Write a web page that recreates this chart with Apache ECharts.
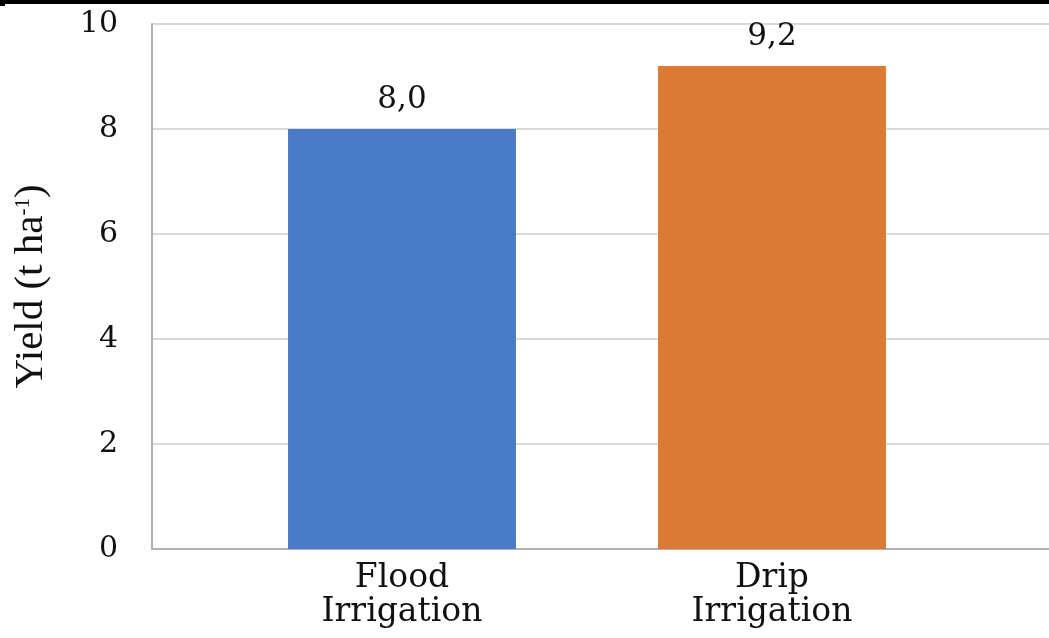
<!DOCTYPE html>
<html>
<head>
<meta charset="utf-8">
<script src="https://cdn.jsdelivr.net/npm/echarts@6/dist/echarts.min.js"></script>
<style>
  html, body { margin: 0; padding: 0; background: #fff; }
  #chart { width: 1049px; height: 638px; }
</style>
</head>
<body>
<div id="chart"></div>
<script>
// Yield by irrigation method
const categories = ['Flood\nIrrigation', 'Drip\nIrrigation'];
const yieldValues = [8.0, 9.2];
const barColors = ['#4a7bc9', '#dc7935'];
const yTicks = [0, 2, 4, 6, 8, 10];

const serif = 'DejaVu Serif';
const chart = echarts.init(document.getElementById('chart'), null, { renderer: 'canvas' });

chart.setOption({
  backgroundColor: '#ffffff',
  animation: false,
  graphic: [
    { type: 'rect', left: 0, top: 0, shape: { width: 1049, height: 4 }, style: { fill: '#000' } },
    { type: 'rect', left: 0, top: 4, shape: { width: 5, height: 2 }, style: { fill: '#000' } }
  ],
  grid: [
    // frame: y axis, gridlines and baseline across the full width
    { left: 152, right: 0, top: 24, bottom: 89 },
    // bars and category labels
    { left: 217, right: 92, top: 24, bottom: 89 }
  ],
  xAxis: [
    {
      gridIndex: 0, type: 'category', data: categories,
      axisLine: { show: true, lineStyle: { color: '#b0b0b0', width: 2 } },
      axisTick: { show: false }, axisLabel: { show: false }, splitLine: { show: false }
    },
    {
      gridIndex: 1, type: 'category', data: categories,
      axisLine: { show: false }, axisTick: { show: false },
      axisLabel: {
        margin: 12, fontFamily: serif, fontSize: 33, lineHeight: 34, color: '#111'
      }
    }
  ],
  yAxis: [
    {
      gridIndex: 0, type: 'value', min: yTicks[0], max: yTicks[yTicks.length - 1], interval: 2,
      name: '{a|Yield (t ha}{s|-1}{a|)}',
      nameLocation: 'middle', nameRotate: 90, nameGap: 100,
      nameTextStyle: {
        rich: {
          a: { fontFamily: 'Liberation Serif', fontSize: 41, color: '#111' },
          s: { fontFamily: 'Liberation Serif', fontSize: 21, color: '#111', padding: [0, 0, 17, 0] }
        }
      },
      axisLine: { show: true, lineStyle: { color: '#b0b0b0', width: 2 } },
      axisTick: { show: false },
      axisLabel: { margin: 34, fontFamily: serif, fontSize: 30, color: '#111' },
      splitLine: { show: true, lineStyle: { color: '#d9d9d9', width: 2 } }
    },
    {
      gridIndex: 1, type: 'value', min: 0, max: 10, interval: 2, show: false,
      splitLine: { show: false }
    }
  ],
  series: [
    {
      type: 'bar', xAxisIndex: 1, yAxisIndex: 1,
      barWidth: '61.6%',
      data: yieldValues.map((v, i) => ({ value: v, itemStyle: { color: barColors[i] } })),
      label: {
        show: true, position: 'top', distance: 14,
        fontFamily: serif, fontSize: 31, color: '#111',
        formatter: p => p.value.toFixed(1).replace('.', ',')
      }
    }
  ]
});
</script>
</body>
</html>
